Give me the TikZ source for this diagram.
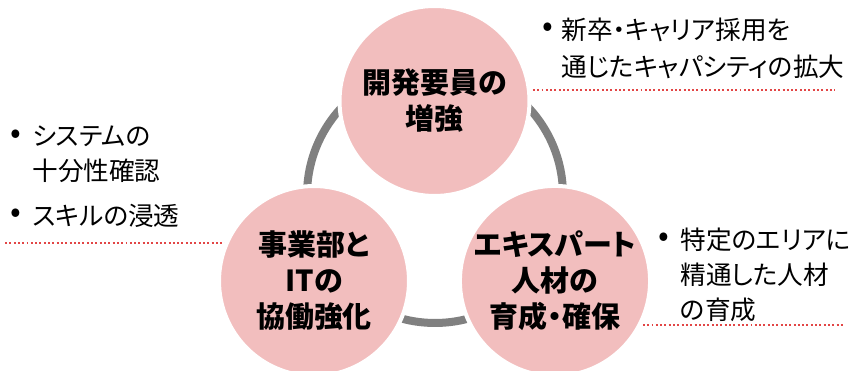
\documentclass[tikz,border=0pt]{standalone}
\usepackage{fontspec}
\setmainfont{Noto Sans CJK JP}[RawFeature=+palt]
\usetikzlibrary{positioning}
\definecolor{ringgray}{RGB}{128,128,128}
\definecolor{bubblepink}{RGB}{242,190,190}
\definecolor{dotred}{RGB}{226,70,70}
\tikzset{
  bubble/.style={circle,fill=bubblepink,draw=white,line width=0.08cm,minimum size=3.8cm,
    inner sep=0pt,align=center,font=\bfseries\fontsize{16.5}{20.5}\selectfont},
  note/.style={anchor=west,inner sep=0pt,align=left,font=\fontsize{14.6}{20}\selectfont},
  bulletmark/.style={inner sep=0pt,font=\fontsize{18}{18}\selectfont},
  guide/.style={dotred,line width=1.1pt,dash pattern=on 1.1pt off 1.35pt}
}
\begin{document}
\begin{tikzpicture}[x=0.02cm,y=-0.02cm]
  \useasboundingbox (0,0) rectangle (849,371);
  % ring and dotted guides behind the circles
  \draw[ringgray,line width=0.16cm] (435,195) circle [radius=2.56cm];
  \draw[guide] (520,90) -- (835,90);
  \draw[guide] (5,243) -- (240,243);
  \draw[guide] (630,325) -- (845,325);
  % circles
  \node[bubble] (dev) at (434.5,101) {開発要員の\\増強};
  \node[bubble] (biz) at (314,281) {事業部と\\ITの\\協働強化};
  \node[bubble] (expert) at (555,281) {エキスパート\\人材の\\育成・確保};
  % notes
  \node[bulletmark] (b1) at (548,30) {•};
  \node[note,font=\fontsize{14.6}{21}\selectfont] (n1) at (561,48.5) {新卒・キャリア採用を\\通じたキャパシティの拡大};
  \node[bulletmark] (b2) at (16,137) {•};
  \node[note] (n2) at (32,154.5) {システムの\\十分性確認};
  \node[bulletmark] (b3) at (16,216) {•};
  \node[note] (n3) at (32,216) {スキルの浸透};
  \node[bulletmark] (b4) at (664,240) {•};
  \node[note] (n4) at (680,275) {特定のエリアに\\精通した人材\\の育成};
\end{tikzpicture}
\end{document}
